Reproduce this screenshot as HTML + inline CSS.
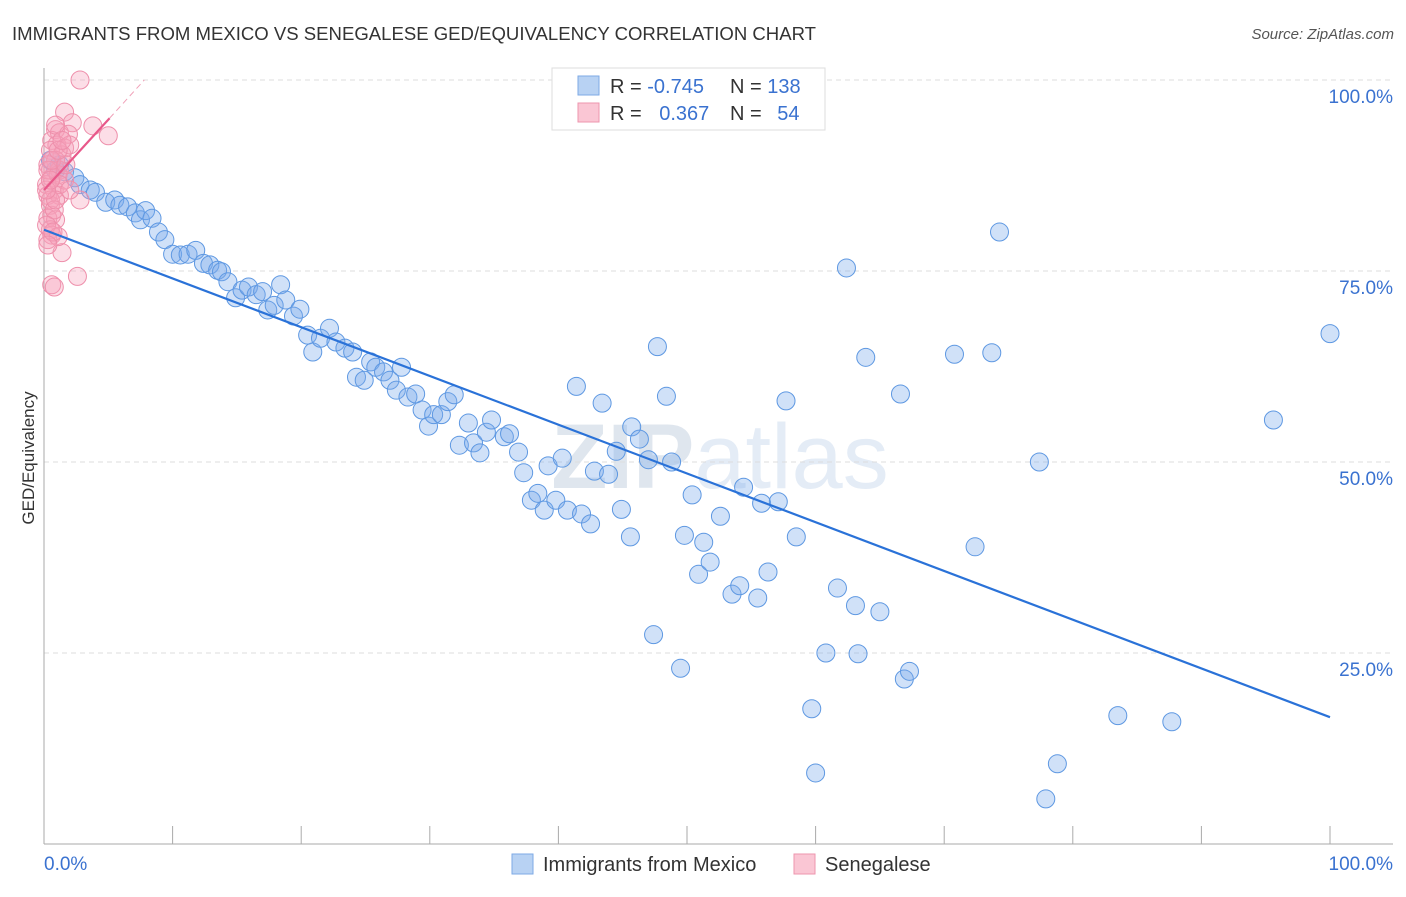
<!DOCTYPE html>
<html><head><meta charset="utf-8">
<style>
body{margin:0;background:#fff;font-family:"Liberation Sans",sans-serif;}
svg text{font-family:"Liberation Sans",sans-serif;}
</style></head>
<body>
<svg id="chart" width="1406" height="892" xmlns="http://www.w3.org/2000/svg">
<text x="12" y="40" font-size="18" fill="#333" textLength="804" lengthAdjust="spacingAndGlyphs">IMMIGRANTS FROM MEXICO VS SENEGALESE GED/EQUIVALENCY CORRELATION CHART</text>
<text x="1394" y="39" font-size="15" fill="#555" text-anchor="end" font-style="italic">Source: ZipAtlas.com</text>
<text x="720" y="488" font-size="92" fill="#e4ecf6" text-anchor="middle" font-family="Liberation Serif"><tspan font-weight="bold" fill="#dfe6ee">ZIP</tspan><tspan font-family="Liberation Sans">atlas</tspan></text>
<g id="grid"></g>
<g id="axes"></g>
<g id="pts"></g>
<g id="trends"></g>
<text transform="translate(34,458) rotate(-90)" font-size="17" fill="#333" text-anchor="middle">GED/Equivalency</text>
<g>
<rect x="552" y="68" width="273" height="62" fill="#fff" stroke="#ddd"/>
<rect x="578" y="76" width="21" height="19" fill="#b8d2f3" stroke="#7eaae6"/>
<rect x="578" y="103" width="21" height="19" fill="#fac6d4" stroke="#ee95ae"/>
<text x="610" y="93" font-size="20" fill="#333">R = <tspan fill="#3a72d0">-0.745</tspan></text>
<text x="730" y="93" font-size="20" fill="#333">N = <tspan fill="#3a72d0">138</tspan></text>
<text x="610" y="120" font-size="20" fill="#333">R = <tspan fill="#3a72d0" dx="12">0.367</tspan></text>
<text x="730" y="120" font-size="20" fill="#333">N = <tspan fill="#3a72d0" dx="10">54</tspan></text>
</g>
<g>
<rect x="512" y="854" width="21" height="20" fill="#b8d2f3" stroke="#7eaae6"/>
<text x="543" y="871" font-size="20" fill="#333">Immigrants from Mexico</text>
<rect x="794" y="854" width="21" height="20" fill="#fac6d4" stroke="#ee95ae"/>
<text x="825" y="871" font-size="20" fill="#333">Senegalese</text>
</g>
</svg>
<script>
const blueX=[0.5,0.9,1.2,1.6,2.4,2.8,3.6,4.0,4.8,5.5,5.9,6.5,7.1,7.5,7.9,8.4,8.9,9.4,10.0,10.6,11.2,11.8,12.4,12.9,13.5,13.8,14.3,14.9,15.4,15.9,16.5,17.0,17.4,17.9,18.4,18.8,19.4,19.9,20.5,20.9,21.5,22.2,22.7,23.4,24.0,24.3,24.9,25.4,25.8,26.4,26.9,27.4,27.8,28.3,28.9,29.4,29.9,30.3,30.9,31.4,31.9,32.3,33.0,33.4,33.9,34.4,34.8,35.8,36.2,36.9,37.3,37.9,38.4,38.9,39.2,39.8,40.3,40.7,41.4,41.8,42.5,42.8,43.4,43.9,44.5,44.9,45.6,45.7,46.3,47.0,47.4,47.7,48.4,48.8,49.5,49.8,50.4,50.9,51.3,51.8,52.6,53.5,54.1,54.4,54.7,55.5,55.8,56.3,57.1,57.7,58.5,59.7,60.0,60.8,61.7,62.4,63.1,63.3,63.9,65.0,66.6,66.9,67.3,70.8,73.7,74.3,77.4,77.9,78.8,83.5,87.7,95.6,100,72.4];
const blueY=[89.5,88.2,88.9,88.0,87.2,86.3,85.6,85.3,84.0,84.3,83.6,83.4,82.6,81.7,82.9,81.9,80.1,79.1,77.2,77.1,77.2,77.7,76.0,75.8,75.1,74.9,73.6,71.5,72.5,72.9,71.9,72.3,69.9,70.5,73.2,71.2,69.1,70.0,66.6,64.4,66.2,67.5,65.7,64.9,64.4,61.1,60.7,63.1,62.4,61.8,60.7,59.4,62.4,58.5,58.9,56.8,54.7,56.2,56.2,57.9,58.8,52.2,55.1,52.5,51.2,53.9,55.5,53.3,53.7,51.3,48.6,45.0,45.9,43.7,49.5,45.0,50.5,43.7,59.9,43.2,41.9,48.8,57.7,48.4,51.4,43.8,40.2,54.6,53.0,50.3,27.4,65.1,58.6,50.0,23.0,40.4,45.7,35.3,39.5,36.9,42.9,32.7,33.8,46.7,100,32.2,44.6,35.6,44.8,58.0,40.2,17.7,9.3,25.0,33.5,75.4,31.2,24.9,63.7,30.4,58.9,21.6,22.6,64.1,64.3,80.1,50.0,5.9,10.5,16.8,16.0,55.5,66.8,38.9];
const pinkX=[2.8,1.6,2.2,3.8,5.0,0.9,1.2,1.9,0.6,1.0,1.6,0.5,1.4,0.9,0.3,0.5,1.2,0.6,0.2,0.8,0.3,1.2,2.8,0.5,0.6,0.3,0.9,0.5,0.6,0.3,1.4,2.6,0.6,0.8,0.9,2.0,1.1,1.6,0.5,0.8,0.2,1.1,0.3,1.2,0.6,0.9,0.2,1.7,1.1,0.5,1.4,0.7,0.3,2.0];
const pinkY=[100,95.8,94.4,94.0,92.7,93.5,93.1,92.9,92.1,91.5,91.1,90.8,90.2,89.5,88.9,88.2,88.2,87.2,86.3,85.6,84.9,84.9,84.3,83.6,82.3,81.9,81.7,80.4,79.7,79.1,77.4,74.3,73.2,72.9,94.1,91.5,87.6,86.9,84.3,83.0,81.0,79.5,88.2,86.3,89.5,84.3,85.6,88.9,90.8,86.9,92.1,80.1,78.4,85.6];
const blueTrend=[[0,80.4],[100,16.6]];
const pinkTrendSolid=[[0,85.6],[5.1,95.0]];
const pinkTrendDash=[[5.1,95.0],[7.8,100]];
const yTicks=[100,75,50,25];
const yTickLabels=["100.0%","75.0%","50.0%","25.0%"];
const xTicks=[0,10,20,30,40,50,60,70,80,90,100];

const NS="http://www.w3.org/2000/svg";
const X=v=>44+v*12.86, Y=v=>844-v*7.64;
function mk(tag,attrs,parent){const e=document.createElementNS(NS,tag);for(const k in attrs)e.setAttribute(k,attrs[k]);parent.appendChild(e);return e;}
const grid=document.getElementById('grid'),axes=document.getElementById('axes'),pts=document.getElementById('pts'),tr=document.getElementById('trends');
yTicks.forEach((t,i)=>{
  const l=mk('line',{x1:44,x2:1393,y1:Y(t),y2:Y(t),stroke:'#ddd','stroke-dasharray':'5,4'},grid);
  
  
  const tx=mk('text',{x:1393,y:Y(t)+23,'font-size':19,fill:'#3a72d0','text-anchor':'end'},grid);
  tx.textContent=yTickLabels[i];
  
  
});
const ax=mk('line',{x1:44,x2:44,y1:68,y2:844,stroke:'#aaa'},axes);


const bx=mk('line',{x1:44,x2:1393,y1:844,y2:844,stroke:'#aaa'},axes);


xTicks.forEach(t=>{
  const l=mk('line',{x1:X(t),x2:X(t),y1:826,y2:844,stroke:'#aaa'},axes);
  
  
});
const xl0=mk('text',{x:44,y:870,'font-size':19,fill:'#3a72d0'},axes);xl0.textContent='0.0%';


const xl1=mk('text',{x:1393,y:870,'font-size':19,fill:'#3a72d0','text-anchor':'end'},axes);xl1.textContent='100.0%';


blueX.forEach((v,i)=>{
  const c=mk('circle',{cx:X(v),cy:Y(blueY[i]),r:9,fill:'rgba(120,170,235,0.35)',stroke:'#5e98e2','stroke-width':1},pts);
  
  
});
pinkX.forEach((v,i)=>{
  const c=mk('circle',{cx:X(v),cy:Y(pinkY[i]),r:9,fill:'rgba(245,160,185,0.35)',stroke:'#ee8fab','stroke-width':1},pts);
  
  
});
const bl=mk('line',{x1:X(blueTrend[0][0]),y1:Y(blueTrend[0][1]),x2:X(blueTrend[1][0]),y2:Y(blueTrend[1][1]),stroke:'#2a72d8','stroke-width':2.2},tr);


const pl=mk('line',{x1:X(pinkTrendSolid[0][0]),y1:Y(pinkTrendSolid[0][1]),x2:X(pinkTrendSolid[1][0]),y2:Y(pinkTrendSolid[1][1]),stroke:'#e8588a','stroke-width':2.2},tr);


const pd=mk('line',{x1:X(pinkTrendDash[0][0]),y1:Y(pinkTrendDash[0][1]),x2:X(pinkTrendDash[1][0]),y2:Y(pinkTrendDash[1][1]),stroke:'#f0a0b8','stroke-width':1,'stroke-dasharray':'6,4'},tr);


</script>
</body></html>
